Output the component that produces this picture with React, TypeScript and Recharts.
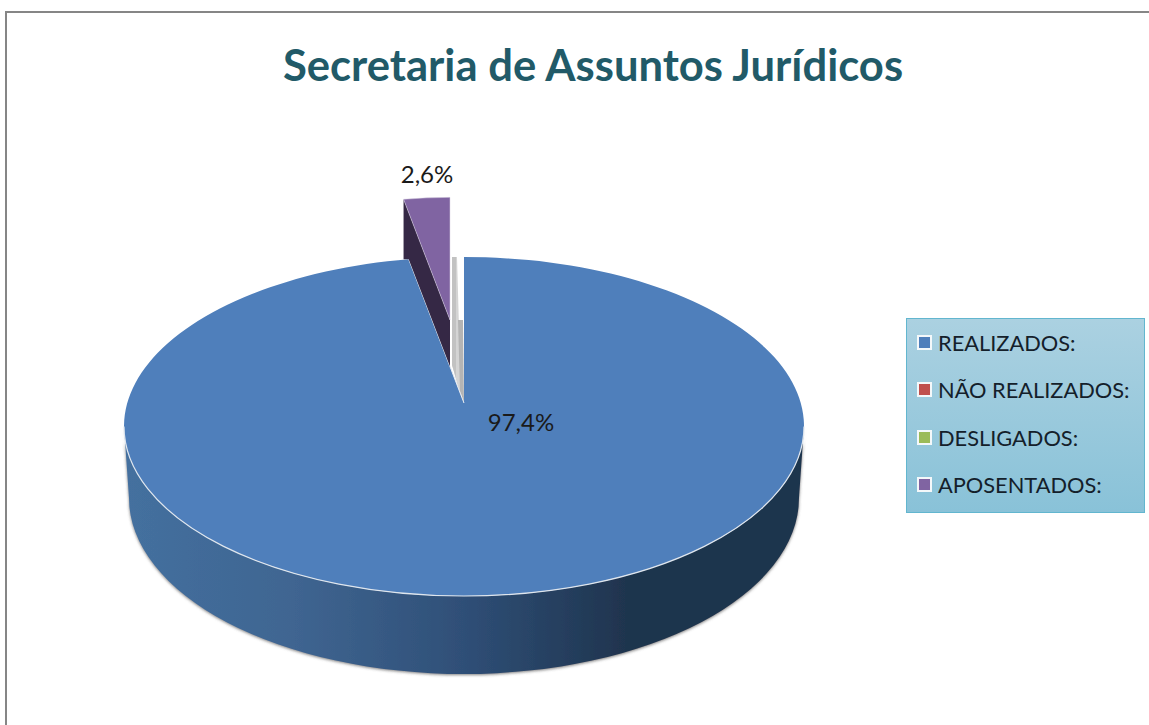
import React from 'react'
import { PieChart, Pie, Legend } from 'recharts'

const CATEGORIES = ['REALIZADOS:', 'NÃO REALIZADOS:', 'DESLIGADOS:', 'APOSENTADOS:']
const VALUES = [97.4, 0, 0, 2.6]
const COLORS = ['#4f7fbb', '#c0504d', '#9bbb59', '#8064a2']

const chartData = CATEGORIES.map((name, i) => ({ name, value: VALUES[i], fill: COLORS[i] }))

const FONT = 'Lato, "Open Sans", sans-serif'

// fake 3D: the tip of the pie sits above the centre of the squashed rim
const TILT = 169.5 / 340
const RIM_SHIFT = 23.5
const DEPTH = 71.5
const EXPLODE = { x: -14, y: -83, scale: 0.84 }

const LABEL_OFFSET: Record<string, [number, number]> = {
  'REALIZADOS:': [57, 18],
  'APOSENTADOS:': [-37, -230],
}

const rad = (d: number) => (d * Math.PI) / 180

function rimPoint(cx: number, cy: number, r: number, theta: number) {
  return {
    x: cx + r * Math.sin(rad(theta)),
    y: cy + RIM_SHIFT * (r / 340) - r * TILT * Math.cos(rad(theta)),
  }
}

function PieSlice(props: any) {
  const { cx, cy, outerRadius: r, startAngle, endAngle, fill, name, value } = props
  if (!value) return <g />
  const t0 = 90 - startAngle
  const t1 = 90 - endAngle

  if (name === 'APOSENTADOS:') {
    const ax = cx + EXPLODE.x
    const ay = cy + EXPLODE.y
    const er = r * EXPLODE.scale
    const left = rimPoint(ax, ay, er, t0)
    const right = rimPoint(ax, ay, er, t1)
    // the main slice hides the lower part of the inner wall
    const edge = rimPoint(cx, cy, r, t0)
    const edgeAt = (x: number) => cy + ((edge.y - cy) * (x - cx)) / (edge.x - cx)
    const wall = [
      [left.x, left.y],
      [ax, ay],
      [ax, edgeAt(ax)],
      [edge.x, edge.y],
      [left.x, edge.y],
    ]
    return (
      <g>
        <polygon points={wall.map((p) => p.join(',')).join(' ')} fill="#352845" />
        <path
          d={`M${ax},${ay} L${left.x},${left.y} A${er},${er * TILT} 0 0 1 ${right.x},${right.y} Z`}
          fill={fill}
          stroke="#d8d2e2"
          strokeWidth={0.5}
        />
      </g>
    )
  }

  const a = rimPoint(cx, cy, r, t0)
  const b = rimPoint(cx, cy, r, t1)
  const ry = r * TILT
  const rimCy = cy + RIM_SHIFT
  const large = t1 - t0 > 180 ? 1 : 0
  const wx = r - 5
  const wy = 176
  const wallPath =
    `M${cx - r},${rimCy} A${r},${ry} 0 0 0 ${cx + r},${rimCy} ` +
    `L${cx + wx},${rimCy + DEPTH} A${wx},${wy} 0 0 1 ${cx - wx},${rimCy + DEPTH} Z`

  return (
    <g>
      <defs>
        <linearGradient id="wallFill" gradientUnits="userSpaceOnUse" x1={cx - r} x2={cx + r} y1={0} y2={0}>
          <stop offset="0" stopColor="#44709f" />
          <stop offset="0.25" stopColor="#3f6591" />
          <stop offset="0.5" stopColor="#2f4f77" />
          <stop offset="0.74" stopColor="#1f344e" />
          <stop offset="1" stopColor="#1f344e" />
        </linearGradient>
        <filter id="wallShadow" x="-5%" y="-5%" width="110%" height="115%">
          <feDropShadow dx={0} dy={1} stdDeviation={1.5} floodColor="#555555" floodOpacity={0.75} />
        </filter>
      </defs>
      <path d={wallPath} fill="url(#wallFill)" filter="url(#wallShadow)" />
      {/* inside of the cut, seen through the gap */}
      <polygon
        points={`${cx - 12},${a.y} ${cx - 7},${a.y} ${cx - 3},${cy - 5} ${cx - 12},${cy - 38}`}
        fill="#d4d4d4"
      />
      <polygon points={`${cx - 12},${a.y} ${cx - 8},${a.y} ${cx - 8},${cy - 25} ${cx - 12},${cy - 38}`} fill="#c2c2c2" />
      <polygon points={`${cx - 6},${cy - 83} ${cx - 1},${cy - 83} ${cx},${cy} ${cx - 4},${cy - 12}`} fill="#b4b4b4" />
      <path
        d={`M${cx},${cy} L${a.x},${a.y} A${r},${ry} 0 ${large} 1 ${b.x},${b.y} Z`}
        fill={fill}
      />
      <path
        d={`M${cx - r},${rimCy} A${r},${ry} 0 0 0 ${cx + r},${rimCy}`}
        fill="none"
        stroke="#dfe6ee"
        strokeWidth={1.2}
      />
      <line x1={cx} y1={cy} x2={b.x} y2={b.y} stroke="#e6ebf2" strokeWidth={1} />
    </g>
  )
}

function renderLabel(props: any) {
  const { cx, cy, value, name } = props
  if (!value) return null
  const off = LABEL_OFFSET[name] || [0, 0]
  return (
    <text
      x={cx + off[0]}
      y={cy + off[1]}
      textAnchor="middle"
      dominantBaseline="central"
      fontFamily={FONT}
      fontSize={24}
      fill="#1a1a1a"
    >
      {value.toFixed(1).replace('.', ',')}%
    </text>
  )
}

function renderLegend() {
  return (
    <div
      style={{
        boxSizing: 'border-box',
        width: 239,
        height: 195,
        border: '1.5px solid #62b6cf',
        background: 'linear-gradient(180deg, #abd1e1 0%, #89c2d8 100%)',
        padding: '0 0 4px 10px',
        display: 'flex',
        flexDirection: 'column',
        justifyContent: 'center',
        gap: 0,
      }}
    >
      {CATEGORIES.map((name, i) => (
        <div key={name} style={{ display: 'flex', alignItems: 'center', height: 48.5, fontFamily: FONT, fontSize: 21.8, color: '#14202a', whiteSpace: 'nowrap' }}>
          <span
            style={{
              display: 'inline-block',
              boxSizing: 'border-box',
              width: 15,
              height: 15,
              border: '2px solid #f4f8fa',
              background: COLORS[i],
              marginRight: 6,
            }}
          />
          {name}
        </div>
      ))}
    </div>
  )
}

export default function App() {
  return (
    <div style={{ position: 'absolute', left: 0, top: 0, width: 1149, height: 725, overflow: 'hidden', background: '#fff' }}>
      <div
        style={{
          position: 'absolute',
          left: 5,
          top: 11,
          width: 1144,
          height: 714,
          borderLeft: '2px solid #868686',
          borderTop: '2px solid #868686',
        }}
      />
      <div
        style={{
          position: 'absolute',
          left: 0,
          width: 1186,
          top: 38,
          textAlign: 'center',
          fontFamily: FONT,
          fontWeight: 700,
          fontSize: 43.6,
          lineHeight: '52px',
          color: '#215a68',
        }}
      >
        Secretaria de Assuntos Jurídicos
      </div>
      <PieChart width={1149} height={725} margin={{ top: 0, right: 0, bottom: 0, left: 0 }} style={{ position: 'absolute', left: 0, top: 0 }}>
        <Pie
          data={chartData}
          dataKey="value"
          nameKey="name"
          cx={464}
          cy={403}
          innerRadius={0}
          outerRadius={340}
          startAngle={90}
          endAngle={-270}
          stroke="none"
          shape={PieSlice}
          label={renderLabel}
          labelLine={false}
          isAnimationActive={false}
        />
        <Legend content={renderLegend} wrapperStyle={{ position: 'absolute', left: 906, top: 318, width: 239, height: 195, bottom: 'auto', right: 'auto' }} />
      </PieChart>
    </div>
  )
}
